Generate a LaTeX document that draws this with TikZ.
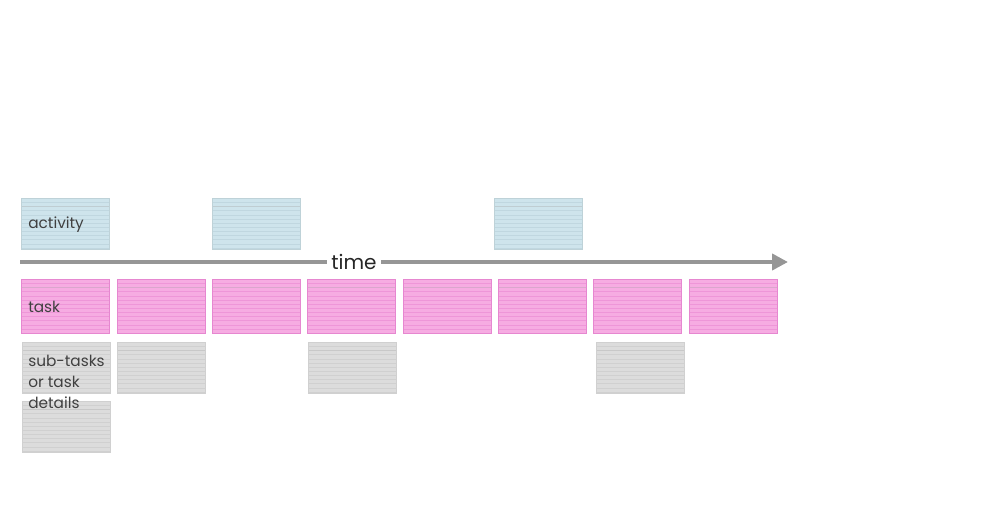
\documentclass[tikz,border=0pt]{standalone}
\usepackage{fontspec}
\setmainfont{Poppins}
\usetikzlibrary{arrows.meta}
\definecolor{actfill}{RGB}{206,228,236}
\definecolor{actline}{RGB}{192,215,224}
\definecolor{actedge}{RGB}{190,210,216}
\definecolor{taskfill}{RGB}{246,172,226}
\definecolor{taskline}{RGB}{238,150,216}
\definecolor{taskedge}{RGB}{230,135,208}
\definecolor{subfill}{RGB}{220,220,220}
\definecolor{subline}{RGB}{208,208,208}
\definecolor{subedge}{RGB}{208,208,208}
\definecolor{arrowgray}{RGB}{150,150,150}
\begin{document}
\begin{tikzpicture}[x=0.75pt,y=-0.75pt,
  card/.style={draw=#1edge, line width=0.4pt, fill=#1fill, minimum width=66pt, minimum height=38.5pt,
    inner sep=0pt, anchor=north west,
    path picture={
      \foreach \k in {1,...,12}{
        \draw[#1line, line width=0.3pt]
          ([yshift=-\k*3.1pt]path picture bounding box.north west) --
          ([yshift=-\k*3.1pt]path picture bounding box.north east);}
      \draw[#1line!85!black!70, line width=0.6pt]
          ([yshift=-6pt]path picture bounding box.north west) --
          ([yshift=-6pt]path picture bounding box.north east);
    }},
  act/.style={card=act},
  tsk/.style={card=task, minimum height=40.5pt},
  sub/.style={card=sub},
  lbl/.style={font=\fontsize{11.5pt}{15.6pt}\selectfont, text=black!75, anchor=west, align=left, inner sep=0pt}
]
\useasboundingbox (0,0) rectangle (1000,510);
\fill[white] (0,0) rectangle (1000,510);

% activity cards
\node[act] (a1) at (21,198) {};
\node[act] (a2) at (212,198) {};
\node[act] (a3) at (494,198) {};

% task cards
\foreach \x [count=\i] in {21,117,212,307,403,498,593,689}
  \node[tsk] (t\i) at (\x,279) {};

% sub-task cards
\node[sub] (s1) at (22,342) {};
\node[sub] (s2) at (117,342) {};
\node[sub] (s3) at (308,342) {};
\node[sub] (s4) at (596,342) {};
\node[sub] (s5) at (22,401) {};

% arrow
\coordinate (tstart) at (20,262);
\coordinate (tend) at (788,262);
\draw[arrowgray, line width=3.2pt, -{Triangle[length=12pt,width=12pt]}] (tstart) -- (tend);
\node[fill=white, inner xsep=3pt, inner ysep=1pt, font=\fontsize{15pt}{16pt}\selectfont, text=black!85] (time) at (354,262) {time};

% labels
\node[lbl] (la) at (28,225) {activity};
\node[lbl] (lt) at (28,307) {task};
\node[lbl, anchor=north west] (ls) at (28,355) {sub-tasks\\or task\\details};
\end{tikzpicture}
\end{document}
